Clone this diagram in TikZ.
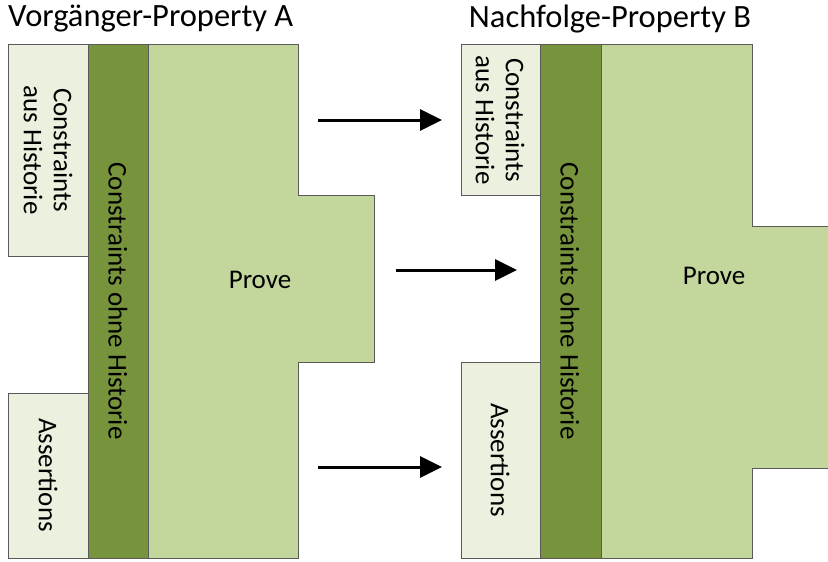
\documentclass[tikz,border=0pt]{standalone}
\usepackage{fontspec}
\setmainfont{Carlito}
\usetikzlibrary{arrows.meta}
\definecolor{histfill}{HTML}{EBF1DE}
\definecolor{ohnefill}{HTML}{77933C}
\definecolor{provefill}{HTML}{C3D69B}
\definecolor{edge}{HTML}{5A5A5A}
\tikzset{
  histbox/.style={fill=histfill, draw=edge, line width=0.9pt},
  ohnebox/.style={fill=ohnefill, draw=edge, line width=0.9pt},
  provebox/.style={fill=provefill, draw=edge, line width=0.9pt},
  vlabel/.style={rotate=-90, font=\fontsize{27}{30}\selectfont, align=center, inner sep=0pt},
  plabel/.style={font=\fontsize{27}{30}\selectfont, inner sep=0pt},
  title/.style={font=\fontsize{32.5}{36}\selectfont, inner sep=0pt},
  flow/.style={line width=3pt, -{Triangle[length=22pt,width=21pt]}}
}
\begin{document}
\begin{tikzpicture}[x=1pt,y=-1pt]
\useasboundingbox (0,0) rectangle (828,562);
\begin{scope}
\clip (0,0) rectangle (828,562);
% Property A
\draw[provebox] (148,44) -- (298,44) -- (298,195) -- (374,195) -- (374,362)
  -- (298,362) -- (298,558) -- (148,558) -- cycle;
\draw[ohnebox] (88,44) rectangle (148,558);
\draw[histbox] (8,44) rectangle (88,256);
\draw[histbox] (8,393) rectangle (88,558);
% Property B
\draw[provebox] (601,44) -- (752,44) -- (752,226) -- (840,226) -- (840,468)
  -- (752,468) -- (752,558) -- (601,558) -- cycle;
\draw[ohnebox] (540,44) rectangle (601,558);
\draw[histbox] (461,44) rectangle (540,195);
\draw[histbox] (461,362) rectangle (540,558);
\end{scope}
% labels
\node[title, anchor=west] (tA) at (8,19) {Vorgänger-Property A};
\node[title] (tB) at (610,19) {Nachfolge-Property B};
\node[vlabel] (hA) at (48,150) {Constraints\\aus Historie};
\node[vlabel] (oA) at (118,301) {Constraints ohne Historie};
\node[vlabel] (aA) at (48,475) {Assertions};
\node[plabel] (pA) at (260,280) {Prove};
\node[vlabel] (hB) at (500,120) {Constraints\\aus Historie};
\node[vlabel] (oB) at (570,301) {Constraints ohne Historie};
\node[vlabel] (aB) at (500,460) {Assertions};
\node[plabel] (pB) at (714,276) {Prove};
% transitions
\coordinate (s1) at (318,120); \coordinate (e1) at (442,120);
\coordinate (s2) at (396,270); \coordinate (e2) at (517,270);
\coordinate (s3) at (318,467); \coordinate (e3) at (442,467);
\draw[flow] (s1) -- (e1);
\draw[flow] (s2) -- (e2);
\draw[flow] (s3) -- (e3);
\end{tikzpicture}
\end{document}
